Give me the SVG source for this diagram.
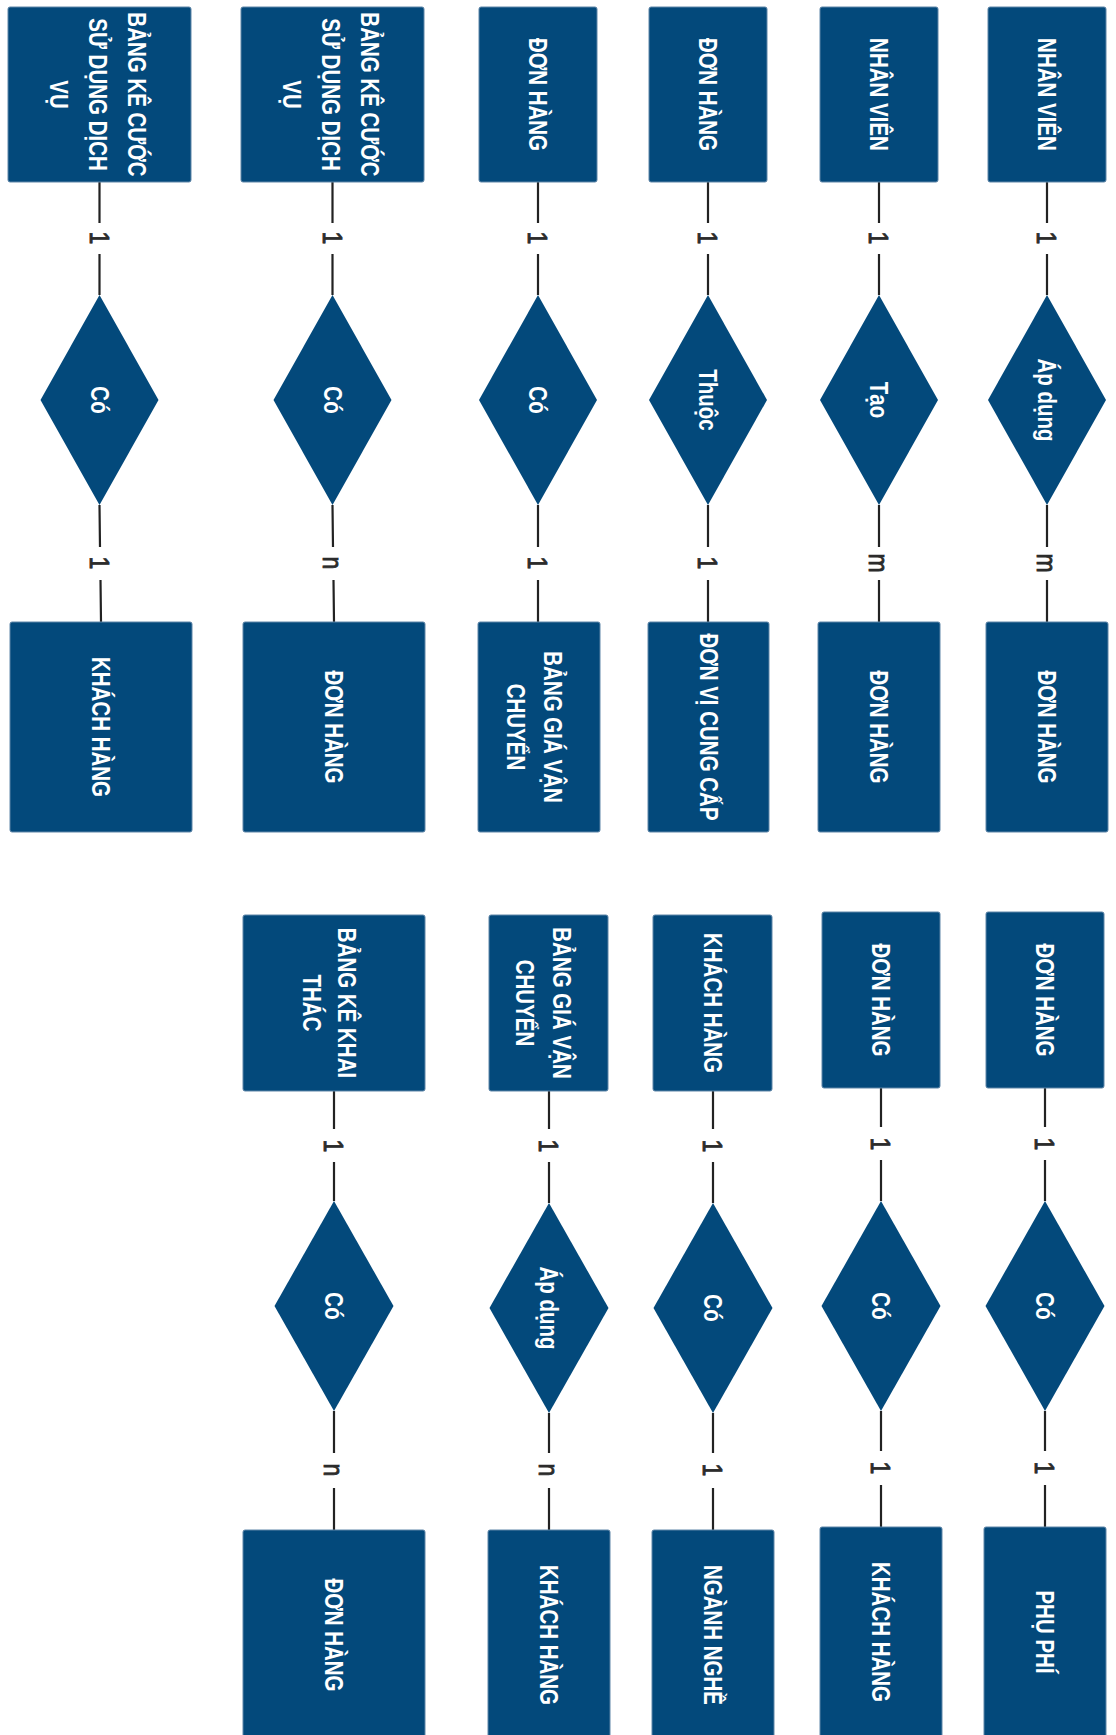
<svg xmlns="http://www.w3.org/2000/svg" width="1116" height="1735" viewBox="0 0 1116 1735">
  <style>
    .box { fill: #03497b; stroke: #5f86a8; stroke-width: 1; }
    .rel { fill: #03497b; }
    .t { font-family: "Liberation Sans", Arial, sans-serif; font-weight: bold; font-size: 25px; fill: #ffffff; text-anchor: middle; dominant-baseline: central; }
    .card { font-family: "Liberation Sans", Arial, sans-serif; font-size: 28px; fill: #2b2b2b; stroke: #2b2b2b; stroke-width: 0.9; text-anchor: middle; dominant-baseline: central; }
    .conn { fill: none; stroke: #222222; stroke-width: 2.2; }
  </style>
  <rect width="1116" height="1735" fill="#ffffff"/>

  <!-- connectors (line, gap for cardinality, line) -->
  <g id="connectors">
    <path class="conn" d="M99.5,182 V223 M99.5,254 V295"/>
    <path class="conn" d="M99.5,505 L100,547 M100.5,580 L101,622"/>
    <path class="conn" d="M332.5,182 V223 M332.5,254 V295"/>
    <path class="conn" d="M332.5,505 L333,547 M333.5,580 L334,622"/>
    <path class="conn" d="M538,182 V223 M538,254 V295"/>
    <path class="conn" d="M538,505 V547 M538,580 V622"/>
    <path class="conn" d="M708,182 V223 M708,254 V295"/>
    <path class="conn" d="M708,505 V547 M708,580 V622"/>
    <path class="conn" d="M879,182 V223 M879,254 V295"/>
    <path class="conn" d="M879,505 V547 M879,580 V622"/>
    <path class="conn" d="M1047,182 V223 M1047,254 V295"/>
    <path class="conn" d="M1047,505 V547 M1047,580 V622"/>

    <path class="conn" d="M334,1091 V1129 M334,1162 V1201"/>
    <path class="conn" d="M334,1411 V1453 M334,1488 V1530"/>
    <path class="conn" d="M549,1091 V1129 M549,1162 V1203"/>
    <path class="conn" d="M549,1413 V1453 M549,1488 V1530"/>
    <path class="conn" d="M713,1091 V1129 M713,1162 V1203"/>
    <path class="conn" d="M713,1413 V1453 M713,1488 V1530"/>
    <path class="conn" d="M881,1088 V1127 M881,1160 V1201"/>
    <path class="conn" d="M881,1411 V1451 M881,1485 V1527"/>
    <path class="conn" d="M1045,1088 V1127 M1045,1160 V1201"/>
    <path class="conn" d="M1045,1411 V1451 M1045,1485 V1527"/>
  </g>

  <!-- cardinality labels -->
  <g id="cardinalities">
    <text class="card" transform="translate(99.5 238) rotate(90) scale(0.82 1)">1</text>
    <text class="card" transform="translate(100 563) rotate(90) scale(0.82 1)">1</text>
    <text class="card" transform="translate(332.5 238) rotate(90) scale(0.82 1)">1</text>
    <text class="card" transform="translate(333 563) rotate(90) scale(0.82 1)">n</text>
    <text class="card" transform="translate(538 238) rotate(90) scale(0.82 1)">1</text>
    <text class="card" transform="translate(538 563) rotate(90) scale(0.82 1)">1</text>
    <text class="card" transform="translate(708 238) rotate(90) scale(0.82 1)">1</text>
    <text class="card" transform="translate(708 563) rotate(90) scale(0.82 1)">1</text>
    <text class="card" transform="translate(879 238) rotate(90) scale(0.82 1)">1</text>
    <text class="card" transform="translate(879 563) rotate(90) scale(0.82 1)">m</text>
    <text class="card" transform="translate(1047 238) rotate(90) scale(0.82 1)">1</text>
    <text class="card" transform="translate(1047 563) rotate(90) scale(0.82 1)">m</text>

    <text class="card" transform="translate(334 1146) rotate(90) scale(0.82 1)">1</text>
    <text class="card" transform="translate(334 1470) rotate(90) scale(0.82 1)">n</text>
    <text class="card" transform="translate(549 1146) rotate(90) scale(0.82 1)">1</text>
    <text class="card" transform="translate(549 1470) rotate(90) scale(0.82 1)">n</text>
    <text class="card" transform="translate(713 1146) rotate(90) scale(0.82 1)">1</text>
    <text class="card" transform="translate(713 1470) rotate(90) scale(0.82 1)">1</text>
    <text class="card" transform="translate(881 1144) rotate(90) scale(0.82 1)">1</text>
    <text class="card" transform="translate(881 1468) rotate(90) scale(0.82 1)">1</text>
    <text class="card" transform="translate(1045 1144) rotate(90) scale(0.82 1)">1</text>
    <text class="card" transform="translate(1045 1468) rotate(90) scale(0.82 1)">1</text>
  </g>

  <!-- ===== upper band ===== -->
  <g id="a1-bang-ke-cuoc">
    <rect class="box" x="8" y="7" width="183" height="175" rx="2"/>
    <text class="t" transform="translate(99.5 94.5) rotate(90) scale(0.82 1)"><tspan x="0" y="-37.5">BẢNG KÊ CƯỚC</tspan><tspan x="0" y="1.5">SỬ DỤNG DỊCH</tspan><tspan x="0" y="40.5">VỤ</tspan></text>
  </g>
  <g id="a1-co">
    <polygon class="rel" points="99.5,295 158.5,400 99.5,505 40.5,400"/>
    <text class="t" transform="translate(99.5 400) rotate(90) scale(0.82 1)">Có</text>
  </g>
  <g id="a1-khach-hang">
    <rect class="box" x="10" y="622" width="182" height="210" rx="2"/>
    <text class="t" transform="translate(101 727) rotate(90) scale(0.82 1)">KHÁCH HÀNG</text>
  </g>

  <g id="a2-bang-ke-cuoc">
    <rect class="box" x="241" y="7" width="183" height="175" rx="2"/>
    <text class="t" transform="translate(332.5 94.5) rotate(90) scale(0.82 1)"><tspan x="0" y="-37.5">BẢNG KÊ CƯỚC</tspan><tspan x="0" y="1.5">SỬ DỤNG DỊCH</tspan><tspan x="0" y="40.5">VỤ</tspan></text>
  </g>
  <g id="a2-co">
    <polygon class="rel" points="332.5,295 391.5,400 332.5,505 273.5,400"/>
    <text class="t" transform="translate(332.5 400) rotate(90) scale(0.82 1)">Có</text>
  </g>
  <g id="a2-don-hang">
    <rect class="box" x="243" y="622" width="182" height="210" rx="2"/>
    <text class="t" transform="translate(334 727) rotate(90) scale(0.82 1)">ĐƠN HÀNG</text>
  </g>

  <g id="a3-don-hang">
    <rect class="box" x="479" y="7" width="118" height="175" rx="2"/>
    <text class="t" transform="translate(538 94.5) rotate(90) scale(0.82 1)">ĐƠN HÀNG</text>
  </g>
  <g id="a3-co">
    <polygon class="rel" points="538,295 597,400 538,505 479,400"/>
    <text class="t" transform="translate(538 400) rotate(90) scale(0.82 1)">Có</text>
  </g>
  <g id="a3-bang-gia">
    <rect class="box" x="478" y="622" width="122" height="210" rx="2"/>
    <text class="t" transform="translate(539 727) rotate(90) scale(0.82 1)"><tspan x="0" y="-13.5">BẢNG GIÁ VẬN</tspan><tspan x="0" y="23.5">CHUYỂN</tspan></text>
  </g>

  <g id="a4-don-hang">
    <rect class="box" x="649" y="7" width="118" height="175" rx="2"/>
    <text class="t" transform="translate(708 94.5) rotate(90) scale(0.82 1)">ĐƠN HÀNG</text>
  </g>
  <g id="a4-thuoc">
    <polygon class="rel" points="708,295 767,400 708,505 649,400"/>
    <text class="t" transform="translate(708 400) rotate(90) scale(0.82 1)">Thuộc</text>
  </g>
  <g id="a4-don-vi">
    <rect class="box" x="648" y="622" width="121" height="210" rx="2"/>
    <text class="t" transform="translate(708.5 727) rotate(90) scale(0.82 1)">ĐƠN VỊ CUNG CẤP</text>
  </g>

  <g id="a5-nhan-vien">
    <rect class="box" x="820" y="7" width="118" height="175" rx="2"/>
    <text class="t" transform="translate(879 94.5) rotate(90) scale(0.82 1)">NHÂN VIÊN</text>
  </g>
  <g id="a5-tao">
    <polygon class="rel" points="879,295 938,400 879,505 820,400"/>
    <text class="t" transform="translate(879 400) rotate(90) scale(0.82 1)">Tạo</text>
  </g>
  <g id="a5-don-hang">
    <rect class="box" x="818" y="622" width="122" height="210" rx="2"/>
    <text class="t" transform="translate(879 727) rotate(90) scale(0.82 1)">ĐƠN HÀNG</text>
  </g>

  <g id="a6-nhan-vien">
    <rect class="box" x="988" y="7" width="118" height="175" rx="2"/>
    <text class="t" transform="translate(1047 94.5) rotate(90) scale(0.82 1)">NHÂN VIÊN</text>
  </g>
  <g id="a6-ap-dung">
    <polygon class="rel" points="1047,295 1106,400 1047,505 988,400"/>
    <text class="t" transform="translate(1047 400) rotate(90) scale(0.82 1)">Áp dụng</text>
  </g>
  <g id="a6-don-hang">
    <rect class="box" x="986" y="622" width="122" height="210" rx="2"/>
    <text class="t" transform="translate(1047 727) rotate(90) scale(0.82 1)">ĐƠN HÀNG</text>
  </g>

  <!-- ===== lower band ===== -->
  <g id="b2-bang-ke-khai">
    <rect class="box" x="243" y="915" width="182" height="176" rx="2"/>
    <text class="t" transform="translate(334 1003) rotate(90) scale(0.82 1)"><tspan x="0" y="-13">BẢNG KÊ KHAI</tspan><tspan x="0" y="22">THÁC</tspan></text>
  </g>
  <g id="b2-co">
    <polygon class="rel" points="334,1201 393.5,1306 334,1411 274.5,1306"/>
    <text class="t" transform="translate(334 1306) rotate(90) scale(0.82 1)">Có</text>
  </g>
  <g id="b2-don-hang">
    <rect class="box" x="243" y="1530" width="182" height="210" rx="2"/>
    <text class="t" transform="translate(334 1635) rotate(90) scale(0.82 1)">ĐƠN HÀNG</text>
  </g>

  <g id="b3-bang-gia">
    <rect class="box" x="489" y="915" width="119" height="176" rx="2"/>
    <text class="t" transform="translate(548.5 1003) rotate(90) scale(0.82 1)"><tspan x="0" y="-13.5">BẢNG GIÁ VẬN</tspan><tspan x="0" y="23.5">CHUYỂN</tspan></text>
  </g>
  <g id="b3-ap-dung">
    <polygon class="rel" points="549,1203 608.5,1308 549,1413 489.5,1308"/>
    <text class="t" transform="translate(549 1308) rotate(90) scale(0.82 1)">Áp dụng</text>
  </g>
  <g id="b3-khach-hang">
    <rect class="box" x="488" y="1530" width="122" height="210" rx="2"/>
    <text class="t" transform="translate(549 1635) rotate(90) scale(0.82 1)">KHÁCH HÀNG</text>
  </g>

  <g id="b4-khach-hang">
    <rect class="box" x="653" y="915" width="119" height="176" rx="2"/>
    <text class="t" transform="translate(712.5 1003) rotate(90) scale(0.82 1)">KHÁCH HÀNG</text>
  </g>
  <g id="b4-co">
    <polygon class="rel" points="713,1203 772.5,1308 713,1413 653.5,1308"/>
    <text class="t" transform="translate(713 1308) rotate(90) scale(0.82 1)">Có</text>
  </g>
  <g id="b4-nganh-nghe">
    <rect class="box" x="652" y="1530" width="122" height="210" rx="2"/>
    <text class="t" transform="translate(713 1635) rotate(90) scale(0.82 1)">NGÀNH NGHỀ</text>
  </g>

  <g id="b5-don-hang">
    <rect class="box" x="822" y="912" width="118" height="176" rx="2"/>
    <text class="t" transform="translate(881 1000) rotate(90) scale(0.82 1)">ĐƠN HÀNG</text>
  </g>
  <g id="b5-co">
    <polygon class="rel" points="881,1201 940.5,1306 881,1411 821.5,1306"/>
    <text class="t" transform="translate(881 1306) rotate(90) scale(0.82 1)">Có</text>
  </g>
  <g id="b5-khach-hang">
    <rect class="box" x="820" y="1527" width="122" height="210" rx="2"/>
    <text class="t" transform="translate(881 1632) rotate(90) scale(0.82 1)">KHÁCH HÀNG</text>
  </g>

  <g id="b6-don-hang">
    <rect class="box" x="986" y="912" width="118" height="176" rx="2"/>
    <text class="t" transform="translate(1045 1000) rotate(90) scale(0.82 1)">ĐƠN HÀNG</text>
  </g>
  <g id="b6-co">
    <polygon class="rel" points="1045,1201 1104.5,1306 1045,1411 985.5,1306"/>
    <text class="t" transform="translate(1045 1306) rotate(90) scale(0.82 1)">Có</text>
  </g>
  <g id="b6-phu-phi">
    <rect class="box" x="984" y="1527" width="122" height="210" rx="2"/>
    <text class="t" transform="translate(1045 1632) rotate(90) scale(0.82 1)">PHỤ PHÍ</text>
  </g>
</svg>
